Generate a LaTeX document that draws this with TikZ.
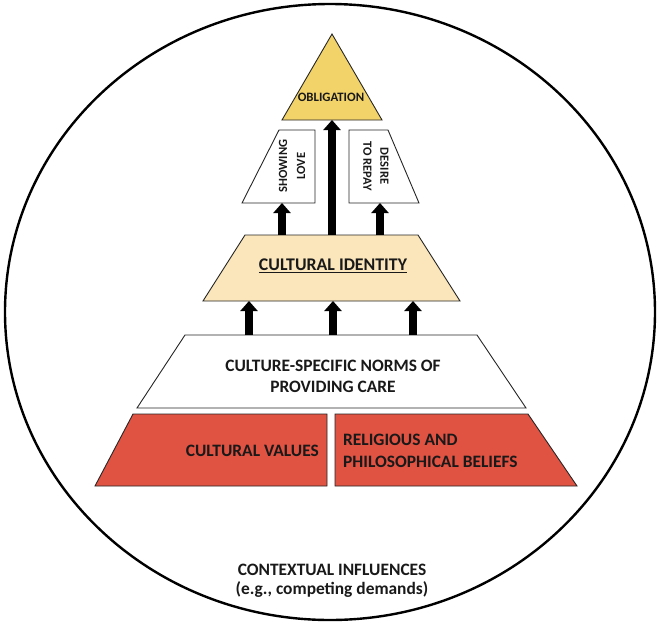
\documentclass[tikz,border=0pt]{standalone}
\usepackage{fontspec}
\setmainfont{Carlito}
\usetikzlibrary{arrows.meta}
\definecolor{obyellow}{RGB}{242,211,106}
\definecolor{idtan}{RGB}{250,230,186}
\definecolor{valred}{RGB}{224,82,66}
\tikzset{
  shapebox/.style={draw=black!85, line width=0.9pt},
  lbl/.style={font=\bfseries, text=black!90, inner sep=0pt, align=center},
  bigarrow/.style={line width=7.5pt, -{Triangle[width=17pt,length=10pt]}, black},
}
\begin{document}
\begin{tikzpicture}[x=1pt,y=-1pt]
\useasboundingbox (0,0) rectangle (659,625);
% outer ellipse
\draw[line width=2.4pt] (330,312) ellipse [x radius=325, y radius=308];
% obligation
\filldraw[shapebox, fill=obyellow] (332,34) -- (382,120) -- (282,120) -- cycle;
\node[lbl, font=\bfseries\fontsize{12.8}{14}\selectfont] (ob) at (331,97) {OBLIGATION};
% showing love
\filldraw[shapebox, fill=white] (279,130) -- (315,130) -- (315,203) -- (242,203) -- cycle;
\node[lbl, rotate=90, font=\bfseries\fontsize{12.5}{18}\selectfont] (sl) at (292,166) {SHOWING\\LOVE};
% desire to repay
\filldraw[shapebox, fill=white] (349,130) -- (388,130) -- (419,203) -- (349,203) -- cycle;
\node[lbl, rotate=-90, font=\bfseries\fontsize{12.5}{17}\selectfont] (dr) at (376,166) {DESIRE\\TO REPAY};
% cultural identity
\filldraw[shapebox, fill=idtan] (245,235) -- (418,235) -- (460,301) -- (203,301) -- cycle;
\node[lbl, font=\bfseries\fontsize{17.8}{20}\selectfont] (ci) at (333,266) {\underline{CULTURAL IDENTITY}};
% norms
\filldraw[shapebox, fill=white] (185,335) -- (477,335) -- (526,408) -- (137,408) -- cycle;
\node[lbl, font=\bfseries\fontsize{17.4}{21}\selectfont] (nm) at (333,376) {CULTURE-SPECIFIC NORMS OF\\PROVIDING CARE};
% values
\filldraw[shapebox, fill=valred] (133,414) -- (327,414) -- (327,486) -- (95,486) -- cycle;
\node[lbl, anchor=east, font=\bfseries\fontsize{17.4}{21}\selectfont] (cv) at (319,451) {CULTURAL VALUES};
\filldraw[shapebox, fill=valred] (335,414) -- (528,414) -- (577,486) -- (335,486) -- cycle;
\node[lbl, anchor=west, align=left, font=\bfseries\fontsize{17.4}{22}\selectfont] (rb) at (343,451) {RELIGIOUS AND\\PHILOSOPHICAL BELIEFS};
% context
\node[lbl, font=\bfseries\fontsize{17.4}{19}\selectfont] (cx) at (332,581) {CONTEXTUAL INFLUENCES\\(e.g., competing demands)};
% arrow anchor points
\coordinate (ci1) at (282,235); \coordinate (sl1) at (282,203);
\coordinate (ci2) at (332,235); \coordinate (ob1) at (332,120);
\coordinate (ci3) at (380,235); \coordinate (dr1) at (380,203);
\coordinate (nm1) at (249,335); \coordinate (cib1) at (249,301);
\coordinate (nm2) at (333,335); \coordinate (cib2) at (333,301);
\coordinate (nm3) at (413,335); \coordinate (cib3) at (413,301);
\draw[bigarrow] (ci1) -- (sl1);
\draw[bigarrow] (ci2) -- (ob1);
\draw[bigarrow] (ci3) -- (dr1);
\draw[bigarrow] (nm1) -- (cib1);
\draw[bigarrow] (nm2) -- (cib2);
\draw[bigarrow] (nm3) -- (cib3);
\end{tikzpicture}
\end{document}
